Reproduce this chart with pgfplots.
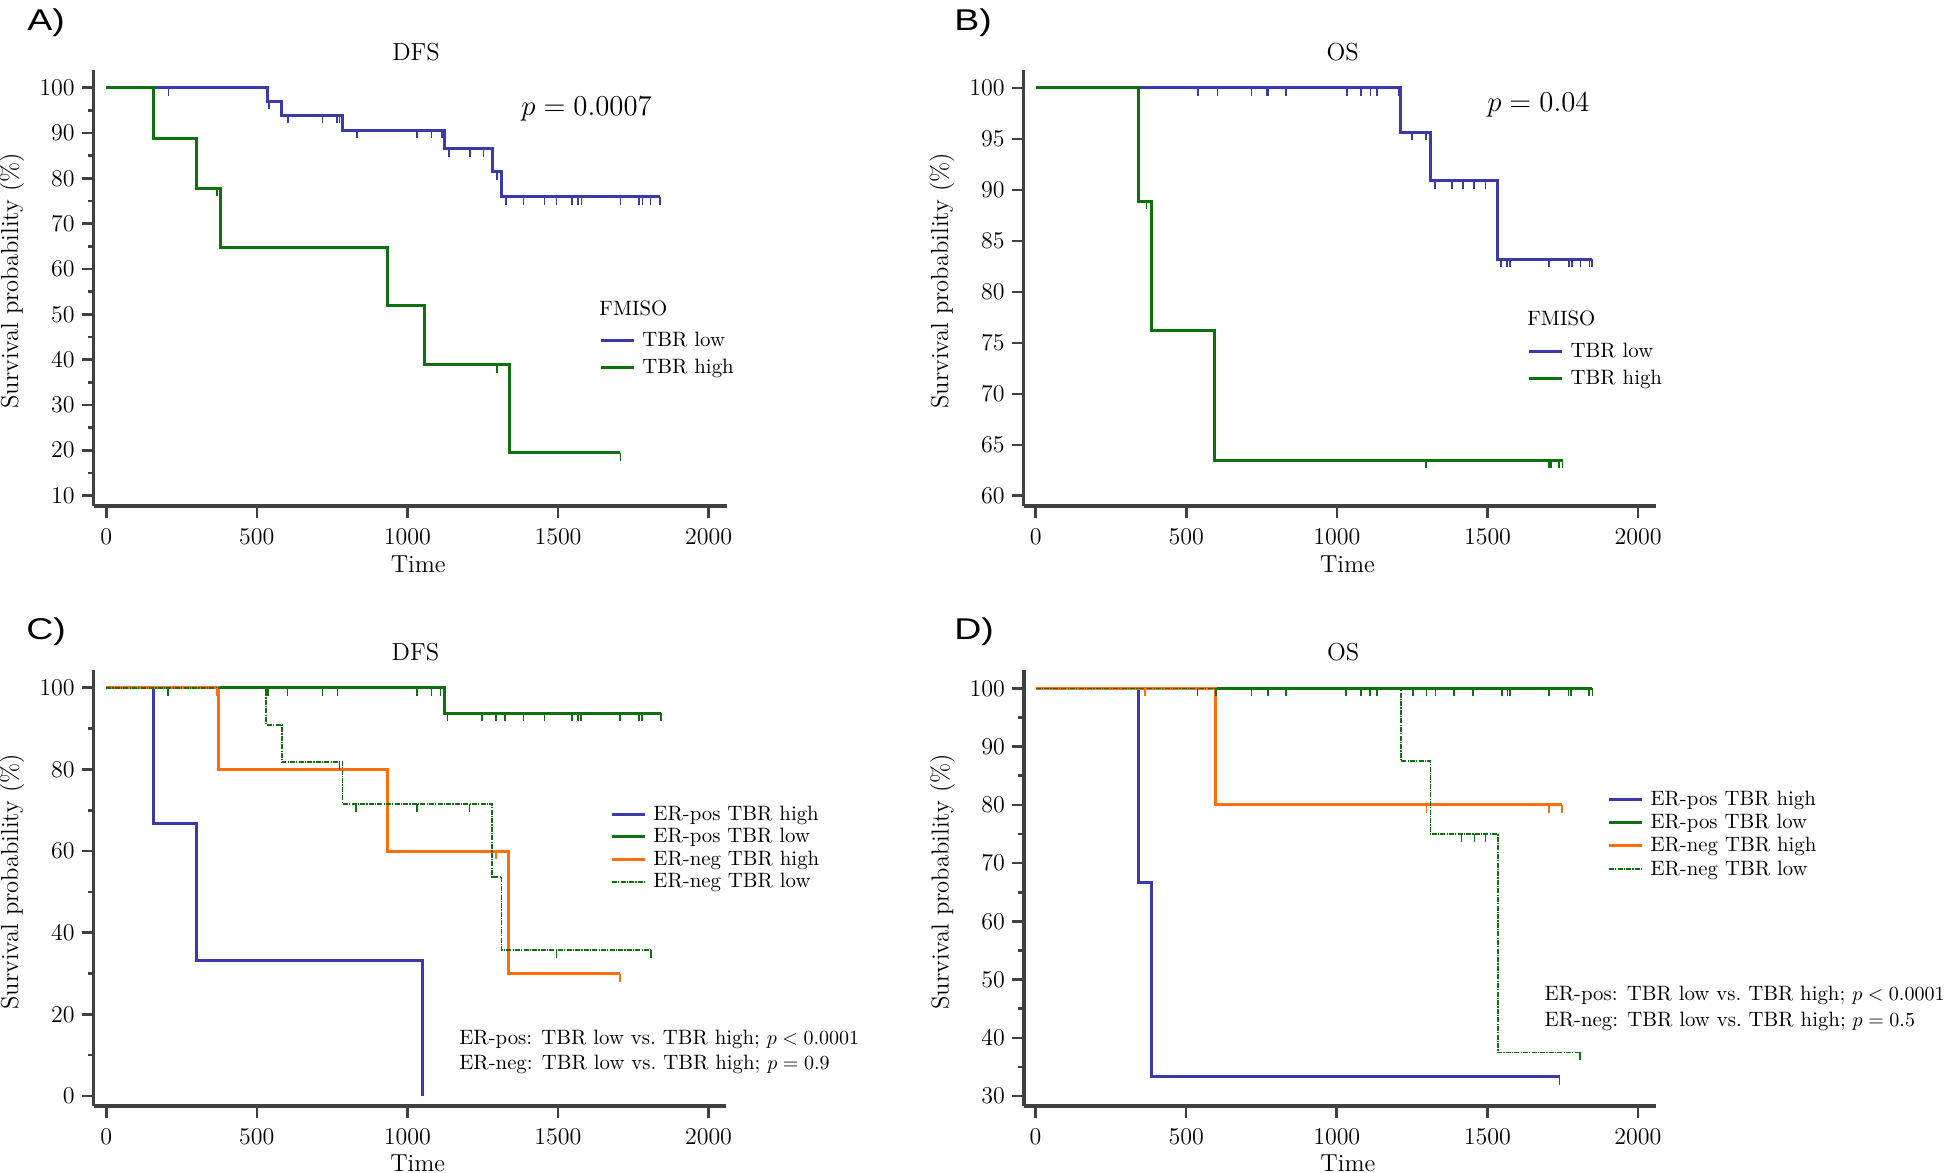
\documentclass[border=0pt]{standalone}
\usepackage{fontspec}
\usepackage{graphicx}
\usepackage{pgfplots}
\pgfplotsset{compat=1.18}
\newfontfamily\panelfont{Liberation Sans}
\definecolor{kmblue}{RGB}{58,58,168}
\definecolor{kmgreen}{RGB}{14,112,14}
\definecolor{kmorange}{RGB}{255,110,12}
\definecolor{axgray}{RGB}{64,64,64}
\pgfdeclareplotmark{cens}{\pgfpathmoveto{\pgfpointorigin}\pgfpathlineto{\pgfpoint{0pt}{-4pt}}\pgfusepathqstroke}
\newcommand{\tfont}{\fontsize{12.3}{14}\selectfont}
\newcommand{\lfont}{\fontsize{10.4}{12}\selectfont}
\pgfplotsset{
  km/.style={
    scale only axis, axis lines=left,
    axis line style={-, line width=1.6pt, color=axgray},
    tick style={line width=1.3pt, color=axgray},
    tick align=outside, major tick length=6pt, minor tick length=3pt,
    xtick={0,500,...,2000},
    tick label style={font=\tfont},
    x tick label style={yshift=-1.9pt},
    /pgf/number format/1000 sep={},
    clip=false,
    legend cell align=left,
    legend image code/.code={\draw[##1] (0pt,0pt) -- (16.5pt,0pt);},
    legend style={anchor=north west, draw=none, fill=none, inner sep=0pt,
      column sep=3.5pt,
      nodes={inner sep=0pt, text height=8pt, text depth=2pt, font=\lfont}},
    every axis plot/.append style={line width=1.5pt, const plot},
  },
  cens/.style={only marks, mark=cens, mark options={line width=0.8pt, solid}, forget plot},
  dd/.style={line width=0.8pt, dash pattern=on 2.5pt off 0.6pt on 0.6pt off 0.6pt},
}
\begin{document}
\begin{tikzpicture}
\useasboundingbox (0,0) rectangle (973pt,586pt);
% ---------------- A ----------------
\begin{axis}[km, at={(46.8pt,333pt)}, anchor=south west, width=316.7pt, height=218.2pt,
  xmin=-42, xmax=2061, ymin=7.7, ymax=104, ytick={10,20,...,100}, minor y tick num=1,
  legend style={at={(0.798,0.402)}, row sep=3.5pt}]
\addplot[kmblue] coordinates {(0,100) (534,97.0) (582,93.9) (785,90.6) (1123,86.5) (1281,81.5) (1311,75.9) (1839,75.9)};
\addlegendentry{TBR low}
\addplot[kmgreen] coordinates {(0,100) (158,88.9) (299,77.8) (380,64.8) (935,51.9) (1055,38.9) (1339,19.4) (1707,19.4)};
\addlegendentry{TBR high}
\addplot[cens, kmblue] coordinates {(207,100) (541,97.0) (603,93.9) (718,93.9) (767,93.9) (774,93.9) (832,90.6) (1031,90.6) (1080,90.6) (1115,90.6) (1138,86.5) (1207,86.5) (1252,86.5) (1297,81.5) (1327,75.9) (1385,75.9) (1455,75.9) (1495,75.9) (1546,75.9) (1566,75.9) (1578,75.9) (1707,75.9) (1768,75.9) (1780,75.9) (1807,75.9) (1839,75.9)};
\addplot[cens, kmgreen] coordinates {(368,77.8) (1297,38.9) (1707,19.4)};
\node[font=\tfont] at (rel axis cs:0.509,1) [yshift=8.8pt] {DFS};
\node[font=\tfont] at (rel axis cs:0.5125,0) [yshift=-29pt] {Time};
\node[font=\tfont, xshift=-40.8pt, rotate=90] at (rel axis cs:0,0.516) {Survival probability (\%)};
\node[font=\fontsize{13.5}{15}\selectfont, anchor=base west, inner sep=0pt] at (axis cs:1377,93.76) {$p = 0.0007$};
\node[font=\lfont, anchor=base west, inner sep=0pt] at (rel axis cs:0.798,0.4354) {FMISO};
\end{axis}
% ---------------- B ----------------
\begin{axis}[km, at={(511.8pt,333pt)}, anchor=south west, width=316pt, height=218.2pt,
  xmin=-40, xmax=2058, ymin=59.0, ymax=101.8, ytick={60,65,...,100},
  legend style={at={(0.797,0.378)}, row sep=3.5pt}]
\addplot[kmblue] coordinates {(0,100) (1212,95.65) (1311,90.9) (1532,83.2) (1846,83.2)};
\addlegendentry{TBR low}
\addplot[kmgreen] coordinates {(0,100) (343,88.9) (383,76.2) (594,63.5) (1749,63.5)};
\addlegendentry{TBR high}
\addplot[cens, kmblue] coordinates {(539,100) (603,100) (716,100) (768,100) (772,100) (831,100) (1033,100) (1080,100) (1112,100) (1133,100) (1205,100) (1250,95.65) (1295,95.65) (1326,90.9) (1382,90.9) (1418,90.9) (1453,90.9) (1457,90.9) (1493,90.9) (1545,83.2) (1564,83.2) (1575,83.2) (1704,83.2) (1770,83.2) (1781,83.2) (1808,83.2) (1838,83.2) (1846,83.2)};
\addplot[cens, kmgreen] coordinates {(368,88.9) (1295,63.5) (1704,63.5) (1710,63.5) (1738,63.5) (1749,63.5)};
\node[font=\tfont] at (rel axis cs:0.505,1) [yshift=8.8pt] {OS};
\node[font=\tfont] at (rel axis cs:0.5125,0) [yshift=-29pt] {Time};
\node[font=\tfont, xshift=-40.8pt, rotate=90] at (rel axis cs:0,0.516) {Survival probability (\%)};
\node[font=\fontsize{13.5}{15}\selectfont, anchor=base west, inner sep=0pt] at (axis cs:1498,97.7) {$p = 0.04$};
\node[font=\lfont, anchor=base west, inner sep=0pt] at (rel axis cs:0.7965,0.4125) {FMISO};
\end{axis}
% ---------------- C ----------------
\begin{axis}[km, at={(46.8pt,33pt)}, anchor=south west, width=316.2pt, height=218.1pt,
  xmin=-42, xmax=2058, ymin=-2.45, ymax=104.4, ytick={0,20,...,100}, minor y tick num=1,
  legend style={at={(0.8166,0.693)}, row sep=1.3pt}]
\addplot[kmblue] coordinates {(0,100) (158,66.7) (299,33.3) (1051,0)};
\addlegendentry{ER-pos TBR high}
\addplot[kmgreen] coordinates {(0,100) (1124,93.8) (1842,93.8)};
\addlegendentry{ER-pos TBR low}
\addplot[kmorange] coordinates {(0,100) (373,80) (933,60) (1335,30) (1705,30)};
\addlegendentry{ER-neg TBR high}
\addplot[kmgreen, dd] coordinates {(0,100) (531,90.9) (583,81.8) (785,71.6) (1280,53.7) (1312,35.8) (1808,35.8)};
\addlegendentry{ER-neg TBR low}
\addplot[cens, kmgreen] coordinates {(206,100) (531,100) (537,100) (602,100) (718,100) (768,100) (1032,100) (1080,100) (1110,100) (1133,93.8) (1248,93.8) (1295,93.8) (1324,93.8) (1385,93.8) (1455,93.8) (1547,93.8) (1566,93.8) (1577,93.8) (1705,93.8) (1770,93.8) (1779,93.8) (1842,93.8)};
\addplot[cens, kmorange] coordinates {(368,100) (1295,60) (1705,30)};
\addplot[cens, kmgreen] coordinates {(775,81.8) (830,71.6) (1032,71.6) (1206,71.6) (1495,35.8) (1808,35.8)};
\node[font=\tfont] at (rel axis cs:0.509,1) [yshift=8.9pt] {DFS};
\node[font=\tfont] at (rel axis cs:0.5125,0) [yshift=-28.75pt] {Time};
\node[font=\tfont, xshift=-40.8pt, rotate=90] at (rel axis cs:0,0.514) {Survival probability (\%)};
\node[font=\lfont, anchor=base west, inner sep=0pt] at (axis cs:1171,12.6) {ER-pos: TBR low vs.\ TBR high; $p < 0.0001$};
\node[font=\lfont, anchor=base west, inner sep=0pt] at (axis cs:1171,6.6) {ER-neg: TBR low vs.\ TBR high; $p = 0.9$};
\end{axis}
% ---------------- D ----------------
\begin{axis}[km, at={(512pt,33pt)}, anchor=south west, width=316pt, height=218.1pt,
  xmin=-38.5, xmax=2060, ymin=28.3, ymax=103.2, ytick={30,40,...,100}, minor y tick num=1,
  legend style={at={(0.9226,0.7267)}, row sep=1.6pt}]
\addplot[kmblue] coordinates {(0,100) (342,66.7) (385,33.3) (1740,33.3)};
\addlegendentry{ER-pos TBR high}
\addplot[kmgreen] coordinates {(0,100) (1849,100)};
\addlegendentry{ER-pos TBR low}
\addplot[kmorange] coordinates {(0,100) (596,80) (1748,80)};
\addlegendentry{ER-neg TBR high}
\addplot[kmgreen, dd] coordinates {(0,100) (1214,87.5) (1311,75) (1535,37.5) (1808,37.5)};
\addlegendentry{ER-neg TBR low}
\addplot[cens, kmblue] coordinates {(1740,33.3)};
\addplot[cens, kmgreen] coordinates {(538,100) (598,100) (717,100) (771,100) (831,100) (1031,100) (1080,100) (1110,100) (1134,100) (1253,100) (1298,100) (1328,100) (1389,100) (1453,100) (1548,100) (1567,100) (1576,100) (1705,100) (1770,100) (1778,100) (1838,100) (1849,100)};
\addplot[cens, kmorange] coordinates {(364,100) (1298,80) (1705,80) (1748,80)};
\addplot[cens, kmgreen] coordinates {(1414,75) (1457,75) (1494,75) (1808,37.5)};
\node[font=\tfont] at (rel axis cs:0.505,1) [yshift=8.9pt] {OS};
\node[font=\tfont] at (rel axis cs:0.5125,0) [yshift=-28.75pt] {Time};
\node[font=\tfont, xshift=-40.8pt, rotate=90] at (rel axis cs:0,0.514) {Survival probability (\%)};
\node[font=\lfont, anchor=base west, inner sep=0pt] at (axis cs:1689,46.5) {ER-pos: TBR low vs.\ TBR high; $p < 0.0001$};
\node[font=\lfont, anchor=base west, inner sep=0pt] at (axis cs:1689,42.0) {ER-neg: TBR low vs.\ TBR high; $p = 0.5$};
\end{axis}
% panel labels
\node[anchor=base west, inner sep=0pt, font=\panelfont\fontsize{15}{18}\selectfont] at (13.5pt,570.5pt) {\scalebox{1.25}[1]{A)}};
\node[anchor=base west, inner sep=0pt, font=\panelfont\fontsize{15}{18}\selectfont] at (477pt,570.5pt) {\scalebox{1.25}[1]{B)}};
\node[anchor=base west, inner sep=0pt, font=\panelfont\fontsize{15}{18}\selectfont] at (13pt,266pt) {\scalebox{1.25}[1]{C)}};
\node[anchor=base west, inner sep=0pt, font=\panelfont\fontsize{15}{18}\selectfont] at (477pt,266pt) {\scalebox{1.25}[1]{D)}};
\end{tikzpicture}
\end{document}
